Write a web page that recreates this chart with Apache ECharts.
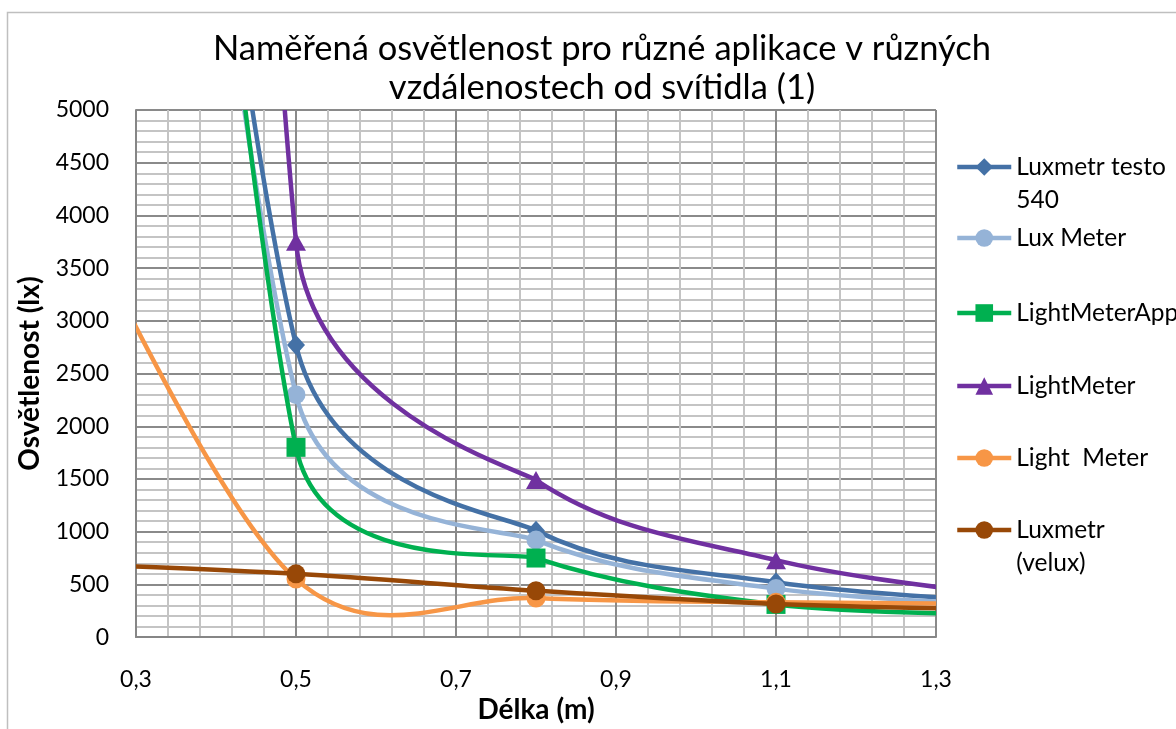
<!DOCTYPE html>
<html>
<head>
<meta charset="utf-8">
<script src="https://cdn.jsdelivr.net/npm/echarts@6/dist/echarts.min.js"></script>
<style>
  html, body { margin: 0; padding: 0; background: #ffffff; }
  #chart { width: 1176px; height: 729px; }
</style>
</head>
<body>
<div id="chart"></div>
<script>
// Measured illuminance (lx) at each distance from the luminaire (m)
const distances = [0.2, 0.5, 0.8, 1.1, 1.4];
const luxmetrTesto540 = [20000, 2770, 1010, 520, 327];
const luxMeter = [19500, 2300, 920, 460, 296];
const lightMeterApp = [23000, 1800, 750, 310, 209];
const lightMeter = [50000, 3750, 1490, 730, 379];
const lightMeterOrange = [4400, 550, 370, 330, 315];
const luxmetrVelux = [700, 600, 440, 314, 257];

const seriesNames = ['Luxmetr testo 540', 'Lux Meter', 'LightMeterApp', 'LightMeter', 'Light  Meter', 'Luxmetr (velux)'];
const legendLabels = ['\nLuxmetr testo\n540', 'Lux Meter', 'LightMeterApp', 'LightMeter', 'Light  Meter', '\nLuxmetr\n(velux)'];
const xTickLabels = ['0,3', '0,5', '0,7', '0,9', '1,1', '1,3'];

const FONT = 'Lato';
const seriesValues = [luxmetrTesto540, luxMeter, lightMeterApp, lightMeter, lightMeterOrange, luxmetrVelux];
const colors = ['#4471A6', '#95B3D7', '#00B050', '#7030A0', '#F79646', '#984807'];
const symbols = ['diamond', 'circle', 'rect', 'triangle', 'circle', 'circle'];
const symbolSizes = [[18, 20], 19, 19, [20, 18], 19, 19];
const legendCenters = [167, 238, 313, 386, 458, 530];
const LINE_H = 33;

// Smoothed segment control points: Bezier with tension 1/6, both arms shortened
// together when one of them would exceed half the segment length
function controlPoints(p0, p1, p2, p3) {
  const dist = (a, b) => Math.hypot(b[0] - a[0], b[1] - a[1]);
  const d12 = dist(p1, p2), d02 = dist(p0, p2), d13 = dist(p1, p3);
  const f1 = d02 / 6 < d12 / 2 ? 1 / 6 : d12 / (2 * d02);
  const f2 = d13 / 6 < d12 / 2 ? 1 / 6 : d12 / (2 * d13);
  const f = Math.min(f1, f2);
  return [
    [p1[0] + f * (p2[0] - p0[0]), p1[1] + f * (p2[1] - p0[1])],
    [p2[0] - f * (p3[0] - p1[0]), p2[1] - f * (p3[1] - p1[1])]
  ];
}

function curveSeries(k) {
  const values = seriesValues[k];
  return {
    type: 'custom',
    name: seriesNames[k],
    z: 2 + 2 * k,
    clip: true,
    silent: true,
    data: values.map((v, i) => [distances[i], v]),
    encode: { x: 0, y: 1 },
    renderItem: function (params, api) {
      const i = params.dataIndex;
      const n = values.length;
      if (i >= n - 1) return null;
      const pt = j => api.coord([distances[j], values[j]]);
      const p1 = pt(i), p2 = pt(i + 1);
      const p0 = i > 0 ? pt(i - 1) : p1;
      const p3 = i + 2 < n ? pt(i + 2) : p2;
      const cp = controlPoints(p0, p1, p2, p3);
      return {
        type: 'bezierCurve',
        shape: {
          x1: p1[0], y1: p1[1], x2: p2[0], y2: p2[1],
          cpx1: cp[0][0], cpy1: cp[0][1], cpx2: cp[1][0], cpy2: cp[1][1]
        },
        style: { stroke: colors[k], lineWidth: 4.5, fill: 'none', lineCap: 'round' }
      };
    }
  };
}

function markerSeries(k) {
  return {
    type: 'line',
    name: seriesNames[k],
    z: 3 + 2 * k,
    data: seriesValues[k].map((v, i) => [distances[i], v]),
    symbol: symbols[k],
    symbolSize: symbolSizes[k],
    showSymbol: true,
    clip: true,
    silent: true,
    color: colors[k],
    itemStyle: { color: colors[k] },
    lineStyle: { color: colors[k], width: 4.5, opacity: 0 }
  };
}

const series = [];
seriesNames.forEach((_, k) => series.push(markerSeries(k)));
seriesNames.forEach((_, k) => series.push(curveSeries(k)));

const legends = seriesNames.map((name, k) => {
  const lines = legendLabels[k].split('\n').length;
  return {
    data: [name],
    orient: 'vertical',
    left: 955,
    top: legendCenters[k] - (lines * LINE_H) / 2,
    padding: 0,
    itemWidth: 54,
    itemHeight: 22,
    selectedMode: false,
    formatter: () => legendLabels[k],
    textStyle: { fontFamily: FONT, fontSize: 24.5, lineHeight: LINE_H, color: '#000000' },
    lineStyle: { width: 4.5, opacity: 1 },
    itemStyle: { opacity: 1 }
  };
});

const option = {
  animation: false,
  backgroundColor: '#ffffff',
  title: {
    text: 'Naměřená osvětlenost pro různé aplikace v různých\nvzdálenostech od svítidla (1)',
    left: 597,
    top: 24,
    textAlign: 'center',
    textStyle: { fontFamily: FONT, fontSize: 34.5, fontWeight: 'normal', lineHeight: 39, color: '#000000' }
  },
  graphic: [{
    type: 'rect',
    silent: true,
    shape: { x: 7.5, y: 12.5, width: 1200, height: 800 },
    style: { fill: 'none', stroke: '#BFBFBF', lineWidth: 1.5 }
  }],
  legend: legends,
  grid: { left: 136, top: 110, width: 800, height: 537 },
  xAxis: {
    type: 'value',
    min: 0.3,
    max: 1.3,
    interval: 0.2,
    name: 'Délka (m)',
    nameLocation: 'middle',
    nameGap: 55,
    nameTextStyle: { fontFamily: FONT, fontSize: 28, fontWeight: 'bold', color: '#000000' },
    axisLine: { show: true, lineStyle: { color: '#868686', width: 2 } },
    axisTick: { show: false },
    axisLabel: {
      margin: 31,
      fontFamily: FONT, fontSize: 23, color: '#000000',
      formatter: v => xTickLabels[Math.round((v - 0.3) / 0.2)]
    },
    splitLine: { show: true, lineStyle: { color: '#8A8A8A', width: 2 } },
    minorTick: { show: false, splitNumber: 5 },
    minorSplitLine: { show: true, lineStyle: { color: '#C4C4C4', width: 2 } }
  },
  yAxis: {
    type: 'value',
    min: 0,
    max: 5000,
    interval: 500,
    name: 'Osvětlenost (lx)',
    nameLocation: 'middle',
    nameGap: 92,
    nameRotate: 90,
    nameTextStyle: { fontFamily: FONT, fontSize: 28, fontWeight: 'bold', color: '#000000' },
    axisLine: { show: true, lineStyle: { color: '#868686', width: 2 } },
    axisTick: { show: false },
    axisLabel: {
      margin: 27, fontFamily: FONT, fontSize: 23, color: '#000000',
      formatter: v => String(v)
    },
    splitLine: { show: true, lineStyle: { color: '#8A8A8A', width: 2 } },
    minorTick: { show: false, splitNumber: 5 },
    minorSplitLine: { show: true, lineStyle: { color: '#C4C4C4', width: 2 } }
  },
  series: series
};

const chart = echarts.init(document.getElementById('chart'), null, { renderer: 'canvas' });
chart.setOption(option);
</script>
</body>
</html>
